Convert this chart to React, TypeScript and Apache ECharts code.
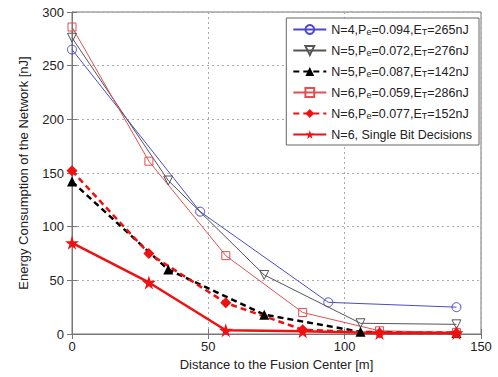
import React, { useEffect, useRef } from "react";
import * as echarts from "echarts";

const xTicks = [0, 50, 100, 150];
const legendNames = [
  "N=4,P{s|e}=0.094,E{s|T}=265nJ",
  "N=5,P{s|e}=0.072,E{s|T}=276nJ",
  "N=5,P{s|e}=0.087,E{s|T}=142nJ",
  "N=6,P{s|e}=0.059,E{s|T}=286nJ",
  "N=6,P{s|e}=0.077,E{s|T}=152nJ",
  "N=6, Single Bit Decisions",
];
const distN4 = [0, 47, 94, 141];
const n4Pe094 = [265, 114, 29.5, 25];
const distN5 = [0, 35.3, 70.5, 105.8, 141];
const n5Pe072 = [276, 143, 55, 10, 9];
const n5Pe087 = [142, 60, 18, 2, 1];
const distN6 = [0, 28.2, 56.4, 84.6, 112.8, 141];
const n6Pe059 = [286, 161, 73, 20, 3, 1.5];
const n6Pe077 = [152, 75, 29, 4, 1, 1];
const n6Single = [85, 48, 3.5, 2.5, 1, 1];

const STAR = "path://M50,0 L61,35 L98,35 L68,57 L79,91 L50,70 L21,91 L32,57 L2,35 L39,35 Z";

const zip = (xs: number[], ys: number[]) => xs.map((x, i) => [x, ys[i]]);

export default function App() {
  const ref = useRef<HTMLDivElement>(null);
  useEffect(() => {
    const chart = echarts.init(ref.current!, null, { renderer: "svg" });
    const font = "Liberation Sans";
    const axisCommon = {
      axisLine: { lineStyle: { color: "#777", width: 1 } },
      axisTick: { inside: true, length: 5, lineStyle: { color: "#777" } },
    };
    chart.setOption({
      animation: false,
      backgroundColor: "#fff",
      grid: { left: 72, right: 17, top: 12, bottom: 43, show: true, borderColor: "#777", borderWidth: 1 },
      legend: {
        orient: "vertical",
        right: 19,
        top: 18,
        backgroundColor: "#fff",
        borderColor: "#666",
        borderWidth: 1,
        borderRadius: 0,
        padding: [5, 7, 4, 6],
        itemWidth: 33,
        itemHeight: 11,
        itemGap: 7.5,
        textStyle: {
          fontFamily: font,
          fontSize: 12.5,
          color: "#222",
          rich: { s: { fontSize: 9, verticalAlign: "bottom", padding: [5, 0, 0, 0], fontFamily: font, color: "#222" } },
        },
      },
      xAxis: [
        {
          type: "value", min: 0, max: 150, interval: 50,
          ...axisCommon,
          axisLabel: { fontFamily: font, fontSize: 13, color: "#222", margin: 6 },
          splitLine: { show: true, lineStyle: { type: [2, 3], color: "#aaa" } },
          name: "Distance to the Fusion Center [m]",
          nameLocation: "middle", nameGap: 24,
          nameTextStyle: { fontFamily: font, fontSize: 13, color: "#222" },
        },
        {
          type: "value", min: 0, max: 150, interval: 50, position: "top",
          ...axisCommon, axisLabel: { show: false }, splitLine: { show: false },
        },
      ],
      yAxis: [
        {
          type: "value", min: 0, max: 300, interval: 50,
          ...axisCommon,
          axisLabel: { fontFamily: font, fontSize: 13, color: "#222", margin: 8 },
          splitLine: { show: true, lineStyle: { type: [2, 3], color: "#aaa" } },
          name: "Energy Consumption of the Network [nJ]",
          nameLocation: "middle", nameGap: 42,
          nameTextStyle: { fontFamily: font, fontSize: 13, color: "#222" },
        },
        {
          type: "value", min: 0, max: 300, interval: 50, position: "right",
          ...axisCommon, axisLabel: { show: false }, splitLine: { show: false },
        },
      ],
      series: [
        {
          name: legendNames[0], type: "line", data: zip(distN4, n4Pe094),
          symbol: "circle", symbolSize: 9,
          lineStyle: { color: "#4a4acc", width: 1 },
          itemStyle: { color: "rgba(255,255,255,0)", borderColor: "#4a4acc", borderWidth: 1 },
        },
        {
          name: legendNames[1], type: "line", data: zip(distN5, n5Pe072),
          symbol: "triangle", symbolRotate: 180, symbolSize: 9,
          lineStyle: { color: "#555", width: 1 },
          itemStyle: { color: "rgba(255,255,255,0)", borderColor: "#555", borderWidth: 1 },
        },
        {
          name: legendNames[2], type: "line", data: zip(distN5, n5Pe087),
          symbol: "triangle", symbolSize: 10,
          lineStyle: { color: "#000", width: 2.5, type: [6, 4] },
          itemStyle: { color: "#000" },
        },
        {
          name: legendNames[3], type: "line", data: zip(distN6, n6Pe059),
          symbol: "rect", symbolSize: 8,
          lineStyle: { color: "#e05050", width: 1 },
          itemStyle: { color: "rgba(255,255,255,0)", borderColor: "#e05050", borderWidth: 1 },
        },
        {
          name: legendNames[4], type: "line", data: zip(distN6, n6Pe077),
          symbol: "diamond", symbolSize: 11,
          lineStyle: { color: "#ee1111", width: 2.5, type: [6, 4] },
          itemStyle: { color: "#ee1111" },
        },
        {
          name: legendNames[5], type: "line", data: zip(distN6, n6Single),
          symbol: STAR, symbolSize: 14,
          lineStyle: { color: "#ee1111", width: 2.5 },
          itemStyle: { color: "#ee1111" },
        },
      ],
    });
    return () => chart.dispose();
  }, []);
  return <div ref={ref} style={{ position: "fixed", left: 0, top: 0, width: 498, height: 377 }} />;
}
